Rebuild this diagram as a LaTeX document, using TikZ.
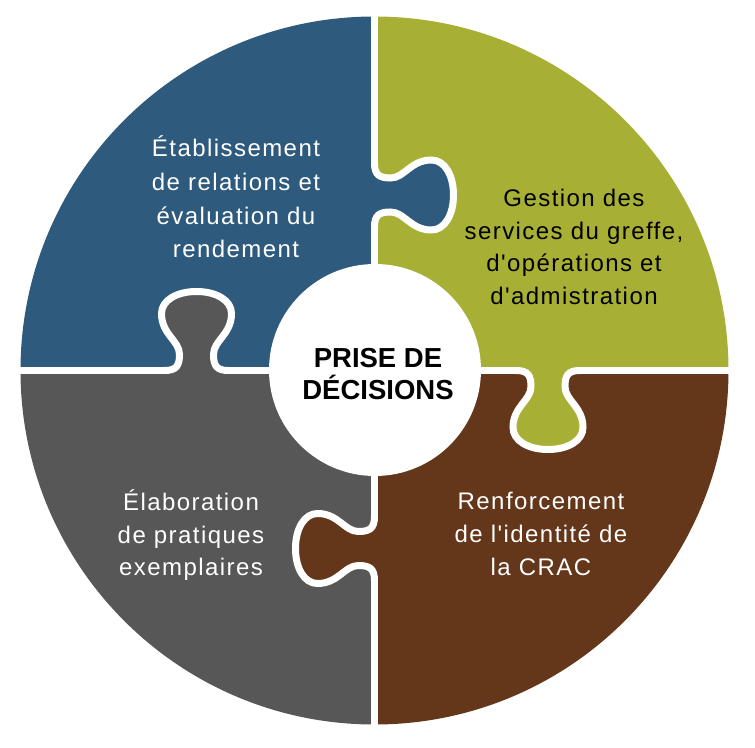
\documentclass[tikz,border=0pt]{standalone}
\usepackage{fontspec}
\setmainfont{Liberation Sans}
\newfontfamily\lblfont[LetterSpace=6]{Liberation Sans}
\definecolor{pzblue}{HTML}{2E5A7D}
\definecolor{pzgreen}{HTML}{A7B034}
\definecolor{pzbrown}{HTML}{64361A}
\definecolor{pzgray}{HTML}{575757}
\newcommand{\puzzletab}[4]{%
  \begin{scope}[shift={(#1,#2)}, rotate=#3]
    \fill[#4] (-32,-5) -- (-32,0) .. controls (-20,0) and (-17,5) .. (-17,16)
      .. controls (-17,30) and (-35,36) .. (-35,57)
      .. controls (-35,70) and (-20,79) .. (0,79)
      .. controls (20,79) and (35,70) .. (35,57)
      .. controls (35,36) and (17,30) .. (17,16)
      .. controls (17,5) and (20,0) .. (32,0) -- (32,-5) -- cycle;
    \draw[divider] (-32,0) .. controls (-20,0) and (-17,5) .. (-17,16)
      .. controls (-17,30) and (-35,36) .. (-35,57)
      .. controls (-35,70) and (-20,79) .. (0,79)
      .. controls (20,79) and (35,70) .. (35,57)
      .. controls (35,36) and (17,30) .. (17,16)
      .. controls (17,5) and (20,0) .. (32,0);
  \end{scope}}
\begin{document}
\begin{tikzpicture}[x=1pt,y=1pt,
  divider/.style={white,line width=7pt,line cap=round},
  wlabel/.style={text=white,font=\lblfont\fontsize{24}{28}\selectfont,anchor=base,inner sep=0pt},
  blabel/.style={text=black,font=\lblfont\fontsize{24}{28}\selectfont,anchor=base,inner sep=0pt},
  ctitle/.style={text=black,font=\bfseries\fontsize{27.5}{32}\selectfont,anchor=base,inner sep=0pt}]
\useasboundingbox (-374.5,-376.5) rectangle (380.5,370.5);
\def\R{354}
% quadrants
\fill[pzblue] (0,0) -- (-\R,0) arc[start angle=180,end angle=90,radius=\R] -- cycle;
\fill[pzgreen] (0,0) -- (0,\R) arc[start angle=90,end angle=0,radius=\R] -- cycle;
\fill[pzbrown] (0,0) -- (\R,0) arc[start angle=0,end angle=-90,radius=\R] -- cycle;
\fill[pzgray] (0,0) -- (0,-\R) arc[start angle=270,end angle=180,radius=\R] -- cycle;
% tabs (filled first, outlined later)
\coordinate (vtop) at (0,\R+6);
\coordinate (t1a) at (0,207.5);
\coordinate (t1b) at (0,143.5);
\coordinate (t4a) at (0,-146);
\coordinate (t4b) at (0,-210);
\coordinate (vbot) at (0,-\R-6);
\coordinate (hleft) at (-\R-6,0);
\coordinate (t2a) at (-210,0);
\coordinate (t2b) at (-146,0);
\coordinate (t3a) at (141.5,0);
\coordinate (t3b) at (205.5,0);
\coordinate (hright) at (\R+6,0);
\puzzletab{0}{175.5}{-90}{pzblue}
\puzzletab{-178}{0}{0}{pzgray}
\puzzletab{173.5}{0}{180}{pzgreen}
\puzzletab{0}{-178}{90}{pzbrown}
% straight dividers with gaps at the tabs
\draw[divider] (vtop) -- (t1a);
\draw[divider] (t1b) -- (t4a);
\draw[divider] (t4b) -- (vbot);
\draw[divider] (hleft) -- (t2a);
\draw[divider] (t2b) -- (t3a);
\draw[divider] (t3b) -- (hright);
% centre
\node[circle,fill=white,minimum size=212pt,inner sep=0pt] (hub) at (0.5,0.5) {};
\node[ctitle] (c1) at (3.5,3.5) {PRISE DE};
\node[ctitle] (c2) at (3.5,-28.5) {DÉCISIONS};
% blue block
\node[wlabel] (a1) at (-138.5,213.5) {Établissement};
\node[wlabel] (a2) at (-138.5,179.8) {de relations et};
\node[wlabel] (a3) at (-138.5,146.1) {évaluation du};
\node[wlabel] (a4) at (-138.5,112.5) {rendement};
% green block
\node[blabel] (b1) at (199.5,163.5) {Gestion des};
\node[blabel] (b2) at (199.5,131) {services du greffe,};
\node[blabel] (b3) at (199.5,98.5) {d'opérations et};
\node[blabel] (b4) at (199.5,66) {d'admistration};
% gray block
\node[wlabel] (d1) at (-183.5,-139.5) {Élaboration};
\node[wlabel] (d2) at (-183.5,-172.5) {de pratiques};
\node[wlabel] (d3) at (-183.5,-204.5) {exemplaires};
% brown block
\node[wlabel] (e1) at (166.5,-138.5) {Renforcement};
\node[wlabel] (e2) at (166.5,-171.5) {de l'identité de};
\node[wlabel] (e3) at (166.5,-204.5) {la CRAC};
\end{tikzpicture}
\end{document}
